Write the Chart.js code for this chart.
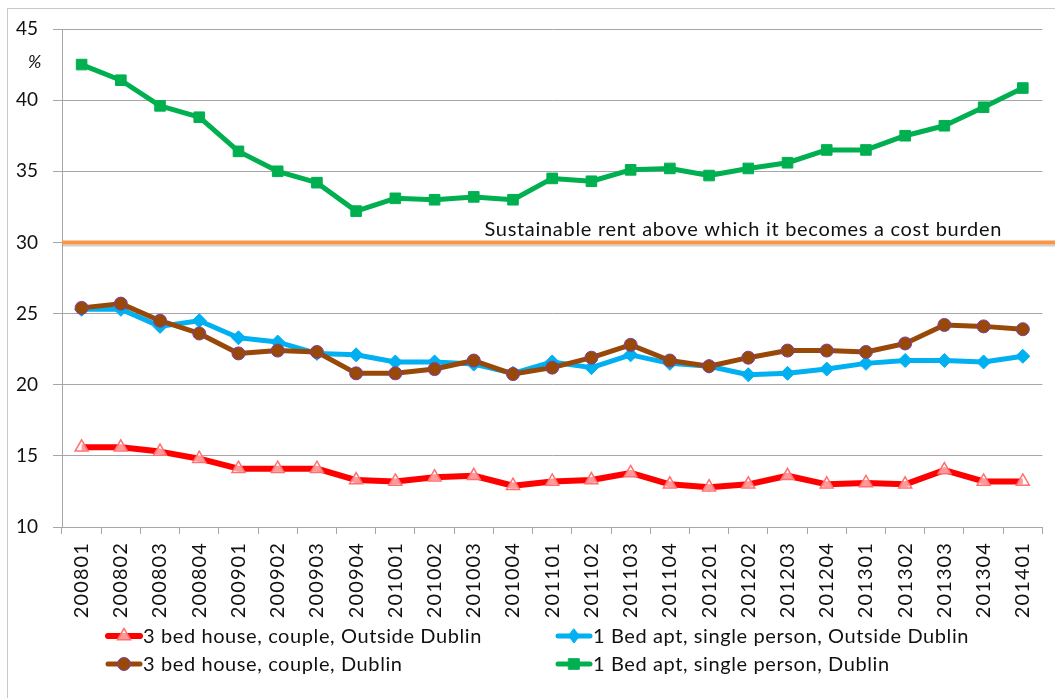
<!DOCTYPE html>
<html>
<head>
<meta charset="utf-8">
<script src="https://cdn.jsdelivr.net/npm/chart.js@4.4.1/dist/chart.umd.min.js"></script>
<style>
  body { margin: 0; background: #fff; }
  canvas { display: block; }
</style>
</head>
<body>
<canvas id="rentChart" width="1055" height="698"></canvas>
<script>
// quarters (YYYYQQ)
const quarters = ['200801','200802','200803','200804','200901','200902','200903','200904',
  '201001','201002','201003','201004','201101','201102','201103','201104',
  '201201','201202','201203','201204','201301','201302','201303','201304','201401'];

// rent as % of income
const house3OutsideDublin = [15.6,15.6,15.3,14.8,14.1,14.1,14.1,13.3,13.2,13.5,13.6,12.9,13.2,13.3,13.8,13.0,12.8,13.0,13.6,13.0,13.1,13.0,14.0,13.2,13.2];
const apt1OutsideDublin = [25.3,25.3,24.1,24.5,23.3,23.0,22.2,22.1,21.6,21.6,21.45,20.8,21.6,21.2,22.1,21.5,21.3,20.7,20.8,21.1,21.5,21.7,21.7,21.6,22.0];
const house3Dublin = [25.4,25.7,24.5,23.6,22.2,22.4,22.3,20.8,20.8,21.1,21.7,20.75,21.2,21.9,22.8,21.7,21.3,21.9,22.4,22.4,22.3,22.9,24.2,24.1,23.9];
const apt1Dublin = [42.5,41.4,39.6,38.8,36.4,35.0,34.2,32.2,33.1,33.0,33.2,33.0,34.5,34.3,35.1,35.2,34.7,35.2,35.6,36.5,36.5,37.5,38.2,39.5,40.85];

const yTicks = [10, 15, 20, 25, 30, 35, 40, 45];
const sustainableLevel = 30;
const sustainableLabel = 'Sustainable rent above which it becomes a cost burden';

const FONT = 'Lato, "Open Sans", sans-serif';

const datasets = [
  {
    label: '3 bed house, couple, Outside Dublin',
    data: house3OutsideDublin,
    borderColor: '#FF0000', borderWidth: 6,
    pointStyle: 'triangle', pointRadius: 7.5,
    pointBackgroundColor: 'rgba(255,255,255,0.6)', pointBorderColor: '#FF6F6F', pointBorderWidth: 1.5,
    order: 3
  },
  {
    label: '1 Bed apt, single person, Outside Dublin',
    data: apt1OutsideDublin,
    borderColor: '#00B0F0', borderWidth: 5,
    pointStyle: 'rectRot', pointRadius: 7,
    pointBackgroundColor: '#00B0F0', pointBorderColor: '#00B0F0', pointBorderWidth: 1,
    order: 1
  },
  {
    label: '3 bed house, couple, Dublin',
    data: house3Dublin,
    borderColor: '#984807', borderWidth: 5,
    pointStyle: 'circle', pointRadius: 6.5,
    pointBackgroundColor: '#984807', pointBorderColor: '#7F3FA8', pointBorderWidth: 1,
    order: 0
  },
  {
    label: '1 Bed apt, single person, Dublin',
    data: apt1Dublin,
    borderColor: '#00B050', borderWidth: 5,
    pointStyle: 'rect', pointRadius: 7.5,
    pointBackgroundColor: '#00B050', pointBorderColor: '#00B050', pointBorderWidth: 1,
    order: 2
  }
];

// legend slots: [dataset index, x of line start, y centre]
const legendSlots = [[0, 108, 636], [2, 108, 664], [1, 558, 636], [3, 558, 664]];

function drawMarker(ctx, ds, x, y) {
  const r = ds.pointRadius;
  ctx.save();
  ctx.fillStyle = ds.pointBackgroundColor;
  ctx.strokeStyle = ds.pointBorderColor;
  ctx.lineWidth = ds.pointBorderWidth;
  ctx.beginPath();
  if (ds.pointStyle === 'triangle') {
    ctx.moveTo(x, y - r);
    ctx.lineTo(x + r * 0.87, y + r * 0.5);
    ctx.lineTo(x - r * 0.87, y + r * 0.5);
    ctx.closePath();
  } else if (ds.pointStyle === 'rectRot') {
    ctx.moveTo(x, y - r); ctx.lineTo(x + r * 0.8, y); ctx.lineTo(x, y + r); ctx.lineTo(x - r * 0.8, y);
    ctx.closePath();
  } else if (ds.pointStyle === 'rect') {
    const s = r * Math.SQRT1_2;
    ctx.rect(x - s, y - s, 2 * s, 2 * s);
  } else {
    ctx.arc(x, y, r, 0, Math.PI * 2);
  }
  ctx.fill();
  ctx.stroke();
  ctx.restore();
}

// widen the rotated x labels a little, like the original rendering
function spacedLabels(s) {
  s.height = 100;
  if (s._spaced) return;
  const orig = s.drawLabels.bind(s);
  s.drawLabels = (area) => {
    s.ctx.save();
    s.ctx.letterSpacing = '1.1px';
    orig(area);
    s.ctx.restore();
  };
  s._spaced = true;
}

const extras = {
  id: 'extras',
  beforeDraw(chart) {
    const ctx = chart.ctx;
    ctx.save();
    ctx.fillStyle = '#fff';
    ctx.fillRect(0, 0, chart.width, chart.height);
    ctx.strokeStyle = '#C8C8C8';
    ctx.lineWidth = 1;
    ctx.strokeRect(7.5, 8.5, chart.width + 10, chart.height + 10);
    ctx.restore();
  },
  beforeDatasetsDraw(chart) {
    const ctx = chart.ctx, area = chart.chartArea;
    const y = chart.scales.y.getPixelForValue(sustainableLevel);
    ctx.save();
    // shadow under the threshold line
    ctx.strokeStyle = 'rgba(150,150,150,0.45)';
    ctx.lineWidth = 2;
    ctx.beginPath(); ctx.moveTo(area.left, y + 3); ctx.lineTo(chart.width, y + 3); ctx.stroke();
    ctx.strokeStyle = '#F79646';
    ctx.lineWidth = 4;
    ctx.beginPath(); ctx.moveTo(area.left, y); ctx.lineTo(chart.width, y); ctx.stroke();
    ctx.fillStyle = '#111';
    ctx.font = '20px ' + FONT;
    ctx.letterSpacing = '0.7px';
    ctx.textAlign = 'right';
    ctx.textBaseline = 'alphabetic';
    ctx.fillText(sustainableLabel, 1002, y - 6);
    ctx.restore();
  },
  afterDraw(chart) {
    const ctx = chart.ctx;
    ctx.save();
    ctx.fillStyle = '#111';
    ctx.font = 'italic 18px ' + FONT;
    ctx.textAlign = 'left';
    ctx.textBaseline = 'middle';
    ctx.fillText('%', 28, 62);

    ctx.font = '20px ' + FONT;
    ctx.letterSpacing = '0.6px';
    legendSlots.forEach(([i, x, y]) => {
      const ds = datasets[i];
      ctx.strokeStyle = ds.borderColor;
      ctx.lineWidth = ds.borderWidth;
      ctx.lineCap = 'round';
      ctx.beginPath(); ctx.moveTo(x, y); ctx.lineTo(x + 32, y); ctx.stroke();
      drawMarker(ctx, ds, x + 16, y);
      ctx.fillStyle = '#111';
      ctx.fillText(ds.label, x + 35, y + 1);
    });
    ctx.restore();
  }
};

new Chart(document.getElementById('rentChart').getContext('2d'), {
  type: 'line',
  data: { labels: quarters, datasets: datasets },
  options: {
    responsive: false,
    animation: false,
    layout: { padding: { left: 0, top: 29, right: 5, bottom: 71 } },
    plugins: { legend: { display: false }, tooltip: { enabled: false } },
    elements: { line: { tension: 0, borderJoinStyle: 'round' } },
    scales: {
      x: {
        offset: true,
        afterFit: spacedLabels,
        grid: { offset: true, drawOnChartArea: false, drawTicks: true, tickLength: 7, color: '#A6A6A6' },
        border: { color: '#A6A6A6' },
        ticks: { minRotation: 90, maxRotation: 90, autoSkip: false, padding: 8, color: '#111', font: { family: FONT, size: 20 } }
      },
      y: {
        min: 10, max: 45,
        afterFit: (s) => { s.width = 62; },
        afterBuildTicks: (s) => { s.ticks = yTicks.map(v => ({ value: v })); },
        grid: { color: '#A6A6A6', tickLength: 9 },
        border: { color: '#A6A6A6' },
        ticks: { padding: 15, color: '#111', font: { family: FONT, size: 19 } }
      }
    }
  },
  plugins: [extras]
});
</script>
</body>
</html>
